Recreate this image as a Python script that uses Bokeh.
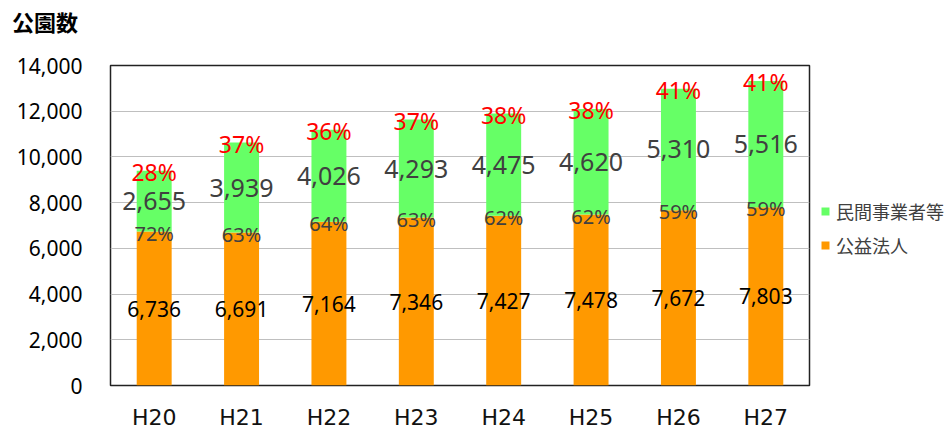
from bokeh.plotting import figure
from bokeh.layouts import column, row
from bokeh.models import (ColumnDataSource, LabelSet, Legend, LegendItem,
                          NumeralTickFormatter, Div, Range1d)
from bokeh.core.properties import value
from bokeh.embed import file_html
from bokeh.resources import INLINE

years = ["H20", "H21", "H22", "H23", "H24", "H25", "H26", "H27"]
public = [6736, 6691, 7164, 7346, 7427, 7478, 7672, 7803]
private = [2655, 3939, 4026, 4293, 4475, 4620, 5310, 5516]
public_pct = ["72%", "63%", "64%", "63%", "62%", "62%", "59%", "59%"]
private_pct = ["28%", "37%", "36%", "37%", "38%", "38%", "41%", "41%"]
y_ticks = [0, 2000, 4000, 6000, 8000, 10000, 12000, 14000]
series_names = ["公益法人", "民間事業者等"]
series_colors = ["#FF9900", "#66FF66"]

src = ColumnDataSource(dict(
    year=years,
    public=public,
    private=private,
    public_txt=[f"{v:,}" for v in public],
    private_txt=[f"{v:,}" for v in private],
    public_pct=public_pct,
    private_pct=private_pct,
    public_mid=[v / 2 for v in public],
    private_mid=[a + b / 2 for a, b in zip(public, private)],
    public_top=[v - 80 for v in public],
    total_top=[a + b - 60 for a, b in zip(public, private)],
))

title = Div(text="公園数", width=944, height=36, margin=0,
            styles={"font-family": "Noto Sans CJK JP", "font-size": "22px",
                    "font-weight": "bold", "color": "#000000",
                    "padding-left": "12px", "padding-top": "8px",
                    "line-height": "26px"})

p = figure(x_range=years, y_range=(0, 14000), width=811, height=396,
           output_backend="svg", toolbar_location=None, title=None,
           min_border_left=110, min_border_right=2, min_border_top=29,
           min_border_bottom=44, margin=0)

rs = p.vbar_stack(["public", "private"], x="year", width=0.4,
                  color=series_colors, source=src, line_color=None)

p.outline_line_color = "#222222"
p.outline_line_width = 1.5
p.xgrid.grid_line_color = None
p.ygrid.grid_line_color = "#bfbfbf"
p.ygrid.grid_line_width = 1.2

p.yaxis.ticker = y_ticks
p.yaxis.formatter = NumeralTickFormatter(format="0,0")
for ax in (p.xaxis[0], p.yaxis[0]):
    ax.axis_line_color = None
    ax.major_tick_line_color = None
    ax.minor_tick_line_color = None
    ax.major_tick_out = 0
    ax.major_tick_in = 0
    ax.minor_tick_out = 0
p.yaxis.major_label_text_font = "Noto Sans"
p.yaxis.major_label_text_font_size = "21px"
p.yaxis.major_label_text_color = "#000000"
p.yaxis.major_label_standoff = 28
p.xaxis.major_label_text_font = "DejaVu Sans"
p.xaxis.major_label_text_font_size = "22px"
p.xaxis.major_label_text_color = "#111111"
p.xaxis.major_label_standoff = 19

common = dict(source=src, x="year", text_align="center", text_baseline="middle",
              text_font=value("Noto Sans"))
p.add_layout(LabelSet(y="public_mid", text="public_txt", text_color="#000000",
                      text_font_size="21px", **common))
p.add_layout(LabelSet(y="private_mid", text="private_txt", text_color="#404040",
                      text_font_size="25px", **common))
p.add_layout(LabelSet(y="public_top", text="public_pct", text_color="#404040",
                      text_font_size="20px", **common))
p.add_layout(LabelSet(y="total_top", text="private_pct", text_color="#FF0000",
                      text_font_size="23px", **common))

# legend in a small side figure (hidden copies of the series supply the glyphs)
lf = figure(width=133, height=396, output_backend="svg", toolbar_location=None,
            title=None, x_axis_type=None, y_axis_type=None, margin=0,
            min_border=0, outline_line_color=None,
            x_range=years, y_range=Range1d(-2, -1))
lf.xgrid.visible = False
lf.ygrid.visible = False
lr = lf.vbar_stack(["public", "private"], x="year", width=0.4,
                   color=series_colors, source=src, line_color=None)
for r in lr:
    r.visible = False

legend = Legend(items=[LegendItem(label=series_names[1], renderers=[lr[1]]),
                       LegendItem(label=series_names[0], renderers=[lr[0]])],
                location=(9, 127), orientation="vertical",
                border_line_color=None, background_fill_alpha=0,
                inactive_fill_alpha=0,
                padding=0, margin=0, spacing=8, glyph_width=10, glyph_height=10,
                label_standoff=6, label_height=20,
                label_text_font="Noto Sans CJK JP", label_text_font_size="18px",
                label_text_color="#404040")
lf.add_layout(legend)

layout = column(title, row(p, lf, margin=0, spacing=0), margin=0, spacing=0)
open("out.html", "w").write(file_html(layout, INLINE))
